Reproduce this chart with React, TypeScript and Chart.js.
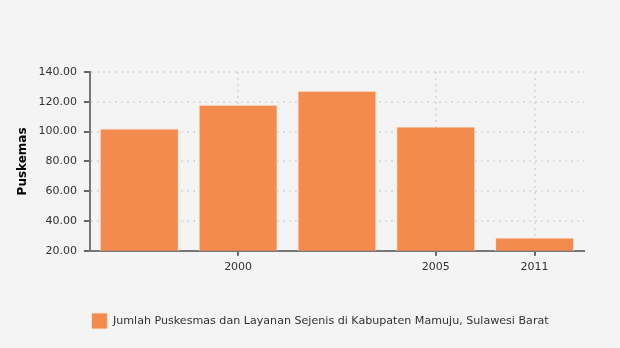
import React, { useEffect, useRef } from "react";
import { Chart, registerables } from "chart.js";

Chart.register(...registerables);

const categories: string[] = ["", "2000", "", "2005", "2011"];
const puskesmas: number[] = [102, 118, 127.5, 103.5, 29];
const seriesLabel = "Jumlah Puskesmas dan Layanan Sejenis di Kabupaten Mamuju, Sulawesi Barat";
const yTitle = "Puskemas";

const shiftLegend = {
  id: "shiftLegend",
  afterLayout(chart: any) {
    const lg = chart.legend;
    if (lg) {
      lg.left += 20;
      lg.right += 20;
    }
  },
};

export default function App() {
  const ref = useRef<HTMLCanvasElement | null>(null);
  useEffect(() => {
    document.body.style.margin = "0";
    document.body.style.background = "#f4f4f4";
    const canvas = ref.current;
    if (!canvas) return;
    const font = "'DejaVu Sans', Verdana, sans-serif";
    const chart = new Chart(canvas, {
      type: "bar",
      data: {
        labels: categories,
        datasets: [
          {
            label: seriesLabel,
            data: puskesmas,
            backgroundColor: "#f38b4e",
            borderColor: "#fbe3d4",
            borderWidth: 1,
            barPercentage: 0.8,
            categoryPercentage: 1,
          },
        ],
      },
      plugins: [shiftLegend],
      options: {
        animation: false,
        responsive: false,
        maintainAspectRatio: false,
        layout: { padding: { top: 72, right: 36, left: 16, bottom: 9 } },
        plugins: {
          tooltip: { enabled: false },
          legend: {
            position: "bottom",
            labels: {
              boxWidth: 16,
              boxHeight: 16,
              padding: 34,
              color: "#333",
              font: { family: font, size: 11.1 },
            },
          },
        },
        scales: {
          x: {
            grid: {
              offset: false,
              color: (c: any) => (categories[c.index] ? "#dddddd" : "transparent"),
              tickColor: (c: any) => (categories[c.index] ? "#666" : "transparent"),
              tickLength: 5,
              lineWidth: 2,
            },
            border: { color: "#777", width: 2, dash: [2, 4] },
            ticks: {
              autoSkip: false,
              maxRotation: 0,
              color: "#333",
              padding: 5,
              font: { family: font, size: 11 },
            },
          },
          y: {
            min: 20,
            max: 140,
            grid: { color: "#dddddd", tickColor: "#666", tickLength: 6, lineWidth: 2 },
            border: { color: "#777", width: 2, dash: [2, 4] },
            ticks: {
              stepSize: 20,
              color: "#333",
              padding: 7,
              font: { family: font, size: 11 },
              callback: (v: any) => Number(v).toFixed(2),
            },
            title: {
              display: true,
              text: yTitle,
              color: "#000",
              font: { family: font, size: 12, weight: "bold" },
              padding: { top: 0, bottom: 1 },
            },
          },
        },
      },
    });
    return () => chart.destroy();
  }, []);
  return (
    <div style={{ width: 620, height: 348, background: "#f4f4f4" }}>
      <canvas ref={ref} width={620} height={348} style={{ display: "block" }} />
    </div>
  );
}
